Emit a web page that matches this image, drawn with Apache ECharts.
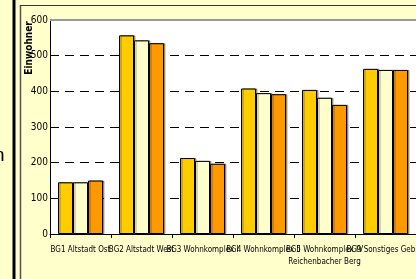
<!DOCTYPE html>
<html>
<head>
<meta charset="utf-8">
<script src="https://cdn.jsdelivr.net/npm/echarts@6/dist/echarts.min.js"></script>
<style>
  html, body { margin: 0; padding: 0; background: #ffffcc; }
  #chart { width: 416px; height: 279px; }
</style>
</head>
<body>
<div id="chart"></div>
<script>
const categories = [
  'BG1 Altstadt Ost',
  'BG2 Altstadt West',
  'BG3 Wohnkomplex I',
  'BG4 Wohnkomplex II',
  'BG5 Wohnkomplex IV\nReichenbacher Berg',
  'BG9 Sonstiges Gebiet'
];
const series1 = [145, 557, 213, 408, 404, 463];
const series2 = [145, 543, 205, 395, 382, 460];
const series3 = [150, 535, 197, 392, 362, 460];
const yTicks = [0, 100, 200, 300, 400, 500, 600];

const narrow = '"Liberation Sans Narrow", "DejaVu Sans Condensed", Arial, sans-serif';
const colors = ['#ffcc00', '#ffffcc', '#ff9900'];

let chartDom = document.getElementById('chart');
let myChart = echarts.init(chartDom);

const barStyle = (c) => ({
  color: c,
  borderColor: '#000',
  borderWidth: 1,
  shadowColor: 'rgba(0,0,0,0.35)',
  shadowOffsetX: 1.5,
  shadowOffsetY: 0,
  shadowBlur: 0
});

let option = {
  backgroundColor: '#ffffcc',
  animation: false,
  grid: {
    left: 50,
    right: 0,
    top: 20,
    bottom: 45,
    outerBoundsMode: 'none',
    containLabel: false,
    show: true,
    backgroundColor: '#ffffff',
    borderWidth: 0
  },
  xAxis: {
    type: 'category',
    data: categories,
    axisLine: { lineStyle: { color: '#000', width: 1 } },
    axisTick: { show: true, length: 4, lineStyle: { color: '#000' } },
    axisLabel: {
      interval: 0,
      color: '#000',
      fontFamily: narrow,
      fontSize: 8,
      margin: 10,
      lineHeight: 12
    }
  },
  yAxis: {
    type: 'value',
    min: yTicks[0],
    max: yTicks[yTicks.length - 1],
    interval: 100,
    axisLine: { show: true, lineStyle: { color: '#000', width: 1 } },
    axisTick: { show: false },
    axisLabel: {
      color: '#000',
      fontFamily: narrow,
      fontSize: 10,
      margin: 2
    },
    splitLine: {
      show: true,
      lineStyle: { color: '#000', type: [9, 6], width: 1 }
    }
  },
  series: [
    { type: 'bar', data: series1, barWidth: 15, barGap: '0%', itemStyle: barStyle(colors[0]) },
    { type: 'bar', data: series2, barWidth: 15, barGap: '0%', itemStyle: barStyle(colors[1]) },
    { type: 'bar', data: series3, barWidth: 15, barGap: '0%', itemStyle: barStyle(colors[2]) }
  ],
  graphic: [
    // outer frame lines
    { type: 'line', shape: { x1: 14, y1: 0, x2: 14, y2: 279 }, style: { stroke: '#000', lineWidth: 3 }, z: 100 },
    { type: 'line', shape: { x1: 20.5, y1: 5, x2: 20.5, y2: 279 }, style: { stroke: '#555', lineWidth: 1.5 }, z: 100 },
    { type: 'line', shape: { x1: 20, y1: 5.5, x2: 416, y2: 5.5 }, style: { stroke: '#333', lineWidth: 1 }, z: 100 },
    { type: 'line', shape: { x1: 50, y1: 20, x2: 416, y2: 20 }, style: { stroke: '#999', lineWidth: 2 }, z: 100 },
    // axis name, reads bottom to top
    {
      type: 'text',
      x: 29,
      y: 48,
      rotation: Math.PI / 2,
      style: {
        text: 'Einwohner',
        fill: '#000',
        font: 'bold 10px ' + narrow,
        align: 'center',
        verticalAlign: 'middle'
      },
      z: 100
    },
    // clipped title text on the left edge
    {
      type: 'text',
      x: -6,
      y: 146,
      style: { text: 'n', fill: '#000', font: '19px Arial, sans-serif' },
      z: 100
    }
  ]
};

option && myChart.setOption(option);
</script>
</body>
</html>
